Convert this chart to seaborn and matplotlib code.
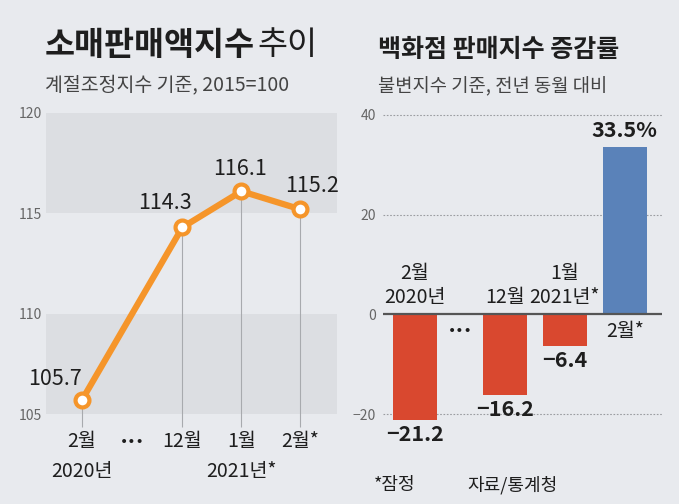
import matplotlib.pyplot as plt
import seaborn as sns
import pandas as pd
from matplotlib.transforms import blended_transform_factory

# === Data ===
line_labels = ["2월", "12월", "1월", "2월*"]
line_pos = [0, 1.7, 2.7, 3.7]
line_values = [105.7, 114.3, 116.1, 115.2]
line_years = [(0, "2020년"), (2.7, "2021년*")]

bar_labels = ["2월\n2020년", "12월", "1월\n2021년*", "2월*"]
bar_pos = [0, 1.5, 2.5, 3.5]
bar_values = [-21.2, -16.2, -6.4, 33.5]
bar_texts = ["−21.2", "−16.2", "−6.4", "33.5%"]

# === Style ===
sns.set_style("white")
plt.rcParams["font.family"] = ["Noto Sans CJK KR", "DejaVu Sans"]
plt.rcParams["axes.unicode_minus"] = True

BG = "#e8eaee"
BAND = "#dcdee2"
ORANGE = "#f5952a"
RED = "#d9482f"
BLUE = "#5a82b9"
TXT = "#1e1e1e"
GREY = "#666666"

fig = plt.figure(figsize=(6.79, 5.04), dpi=100)
fig.patch.set_facecolor(BG)

def fx(px):
    return px / 679

def fy(py):
    return 1 - py / 504

# === Titles ===
fig.text(fx(45), fy(45), "소매판매액지수", fontsize=23.5, fontweight="bold", color=TXT, va="center")
fig.text(fx(257), fy(45), "추이", fontsize=23.5, fontweight="light", color=TXT, va="center")
fig.text(fx(45), fy(85), "계절조정지수 기준, 2015=100", fontsize=14, color="#444444", va="center")
fig.text(fx(378), fy(50), "백화점 판매지수 증감률", fontsize=18, fontweight="bold", color=TXT, va="center")
fig.text(fx(378), fy(87), "불변지수 기준, 전년 동월 대비", fontsize=13.5, color="#444444", va="center")
fig.text(fx(395), fy(485), "*잠정", fontsize=13, color=TXT, ha="center", va="center")
fig.text(fx(512), fy(485), "자료/통계청", fontsize=13, color=TXT, ha="center", va="center")

# === Left: line chart ===
axl = fig.add_axes([fx(46), fy(414), fx(291), 301 / 504])
axl.set_facecolor(BG)
axl.axhspan(115, 120, color=BAND, zorder=0, lw=0)
axl.axhspan(105, 110, color=BAND, zorder=0, lw=0)
axl.vlines(line_pos, ymin=104.35, ymax=line_values, color="#a8aaae", lw=0.8, clip_on=False, zorder=1)
sns.lineplot(x=line_pos, y=line_values, color=ORANGE, lw=4.5, marker="o", markersize=10,
             markerfacecolor="white", markeredgecolor=ORANGE, markeredgewidth=3,
             ax=axl, zorder=3, clip_on=False)
axl.set_xlim(-0.61, 4.32)
axl.set_ylim(105, 120)
axl.set_yticks([105, 110, 115, 120])
axl.tick_params(axis="y", length=0, pad=3, labelsize=10, labelcolor=GREY)
axl.set_xticks([])
for s in axl.spines.values():
    s.set_visible(False)

label_offsets = [(-0.46, 1.05), (-0.3, 1.2), (-0.03, 1.1), (0.19, 1.15)]
for x, v, (dx, dy) in zip(line_pos, line_values, label_offsets):
    axl.text(x + dx, v + dy, f"{v:.1f}", fontsize=15.5, color=TXT, ha="center", va="center")

trl = blended_transform_factory(axl.transData, fig.transFigure)
for x, lab in zip(line_pos, line_labels):
    axl.text(x, fy(442), lab, transform=trl, fontsize=14, color=TXT, ha="center", va="center")
for x, lab in line_years:
    axl.text(x, fy(472), lab, transform=trl, fontsize=14, color=TXT, ha="center", va="center")
axl.text(0.85, fy(442), "•••", transform=trl, fontsize=10, family="DejaVu Sans",
         color=TXT, ha="center", va="center")

# === Right: bar chart ===
axr = fig.add_axes([fx(383), fy(424), fx(279), (424 - 115) / 504])
axr.set_facecolor(BG)
df = pd.DataFrame({"pos": bar_pos, "value": bar_values,
                   "sign": ["neg" if v < 0 else "pos" for v in bar_values]})
for yv in [-20, 20, 40]:
    axr.axhline(yv, color="#9a9ca0", lw=0.8, ls=(0, (1.5, 1.5)), zorder=0, clip_on=False)
sns.barplot(data=df, x="pos", y="value", hue="sign", palette={"neg": RED, "pos": BLUE},
            native_scale=True, width=0.73, dodge=False, legend=False, saturation=1,
            linewidth=0, ax=axr, zorder=2)
axr.axhline(0, color="#555555", lw=1.6, zorder=3)
axr.set_xlim(-0.53, 4.12)
axr.set_ylim(-22, 40)
axr.set_yticks([-20, 0, 20, 40])
axr.tick_params(axis="y", length=0, pad=5, labelsize=10, labelcolor=GREY)
axr.set_xticks([])
axr.set_xlabel("")
axr.set_ylabel("")
for s in axr.spines.values():
    s.set_visible(False)

for x, v, lab, t in zip(bar_pos, bar_values, bar_labels, bar_texts):
    if v < 0:
        axr.text(x, 1.2, lab, fontsize=14, color=TXT, ha="center", va="bottom", linespacing=1.2)
        axr.text(x, v - 0.8, t, fontsize=15.5, fontweight="bold", color=TXT, ha="center", va="top")
    else:
        axr.text(x, -1.3, lab, fontsize=14, color=TXT, ha="center", va="top")
        axr.text(x, v + 1.2, t, fontsize=15.5, fontweight="bold", color=TXT, ha="center", va="bottom")
axr.text(0.75, -3.3, "•••", fontsize=10, family="DejaVu Sans", color=TXT, ha="center", va="center")

fig.savefig("out.png", dpi=100, facecolor=BG)
